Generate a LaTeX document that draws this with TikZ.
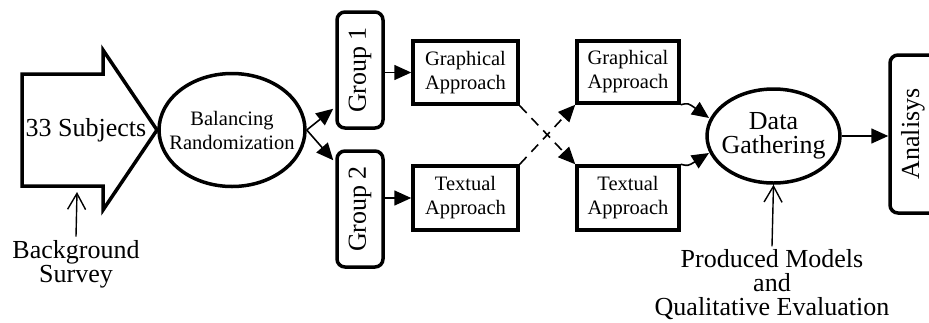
\documentclass[tikz,border=0pt]{standalone}
\usepackage{fontspec}
\setmainfont{Liberation Serif}
\usetikzlibrary{arrows.meta,shapes.geometric}
\begin{document}
\begin{tikzpicture}[x=1pt,y=-1pt,
  box/.style={draw,line width=3.5pt,inner sep=0pt},
  roundbox/.style={draw,line width=3.5pt,rounded corners=8pt,inner sep=0pt},
  oval/.style={draw,ellipse,line width=3.5pt,inner sep=0pt},
  big/.style={font=\fontsize{26}{24}\selectfont,align=center},
  small/.style={font=\fontsize{20.5}{24}\selectfont,align=center},
  flow/.style={line width=1.6pt,-{Triangle[length=17pt,width=15pt]}},
  openarrow/.style={line width=1.4pt,-{Straight Barb[length=16pt,width=18pt,line width=1.4pt]}},
  cross/.style={line width=1.6pt,dash pattern=on 10pt off 7pt,-{Triangle[length=17pt,width=15pt]}}
]
\useasboundingbox (0,0) rectangle (929,322);

% block arrow holding the subjects
\draw[line width=3.5pt,line join=miter] (22,74) -- (103,74) -- (103,50) -- (157,130) -- (103,210) -- (103,186) -- (22,186) -- cycle;
\node[big,anchor=center] (subj) at (86,130) {33 Subjects};
\coordinate (subjfoot) at (77,192);

\node[big] (bg) at (76,264) {Background\\Survey};

% ellipses drawn at fixed size, text placed on top
\node[oval,minimum width=146pt,minimum height=113pt] (bal) at (232,130) {};
\node[small] at (bal.center) {Balancing\\Randomization};

\node[roundbox,minimum width=46pt,minimum height=116pt] (g1) at (360,70) {};
\node[big,rotate=90] at (g1.center) {Group 1};
\node[roundbox,minimum width=46pt,minimum height=116pt] (g2) at (360,209) {};
\node[big,rotate=90] at (g2.center) {Group 2};

\node[box,minimum width=105pt,minimum height=63pt,small] (ga1) at (465.5,72.5) {Graphical\\Approach};
\node[box,minimum width=105pt,minimum height=64pt,small] (ta1) at (465.5,198) {Textual\\Approach};
\node[box,minimum width=102pt,minimum height=62pt,small] (ga2) at (628,72) {Graphical\\Approach};
\node[box,minimum width=102pt,minimum height=64pt,small] (ta2) at (628,198) {Textual\\Approach};

\node[oval,minimum width=133pt,minimum height=94pt] (dg) at (773.5,136) {};
\node[big] at (dg.center) {Data\\Gathering};

\node[roundbox,minimum width=70pt,minimum height=158pt] (an) at (925,134) {};
\node[big,rotate=90] at (913,134) {Analisys};

\node[big] (pm) at (772,285) {Produced Models\\and\\Qualitative Evaluation};

% connectors
\draw[flow] (bal.east) -- ([shift={(-2pt,21pt)}]g1.south west);
\draw[flow] (bal.east) -- ([shift={(-2pt,-11pt)}]g2.north west);
\draw[flow] (g1.east |- ga1.west) -- (ga1.west);
\draw[flow] (g2.east |- ta1.west) -- (ta1.west);
\draw[cross] (ga1.south east) -- (ta2.north west);
\draw[cross] (ta1.north east) -- (ga2.south west);
\draw[flow] (ga2.south east) .. controls (688,103) .. (709,118);
\draw[flow] (ta2.north east) .. controls (688,166) .. (709,153);
\draw[flow] (dg.east) -- (an.west |- dg.east);
\draw[openarrow] (pm.north) -- (dg.south);
\draw[openarrow] (bg.north) -- (subjfoot);
\end{tikzpicture}
\end{document}
